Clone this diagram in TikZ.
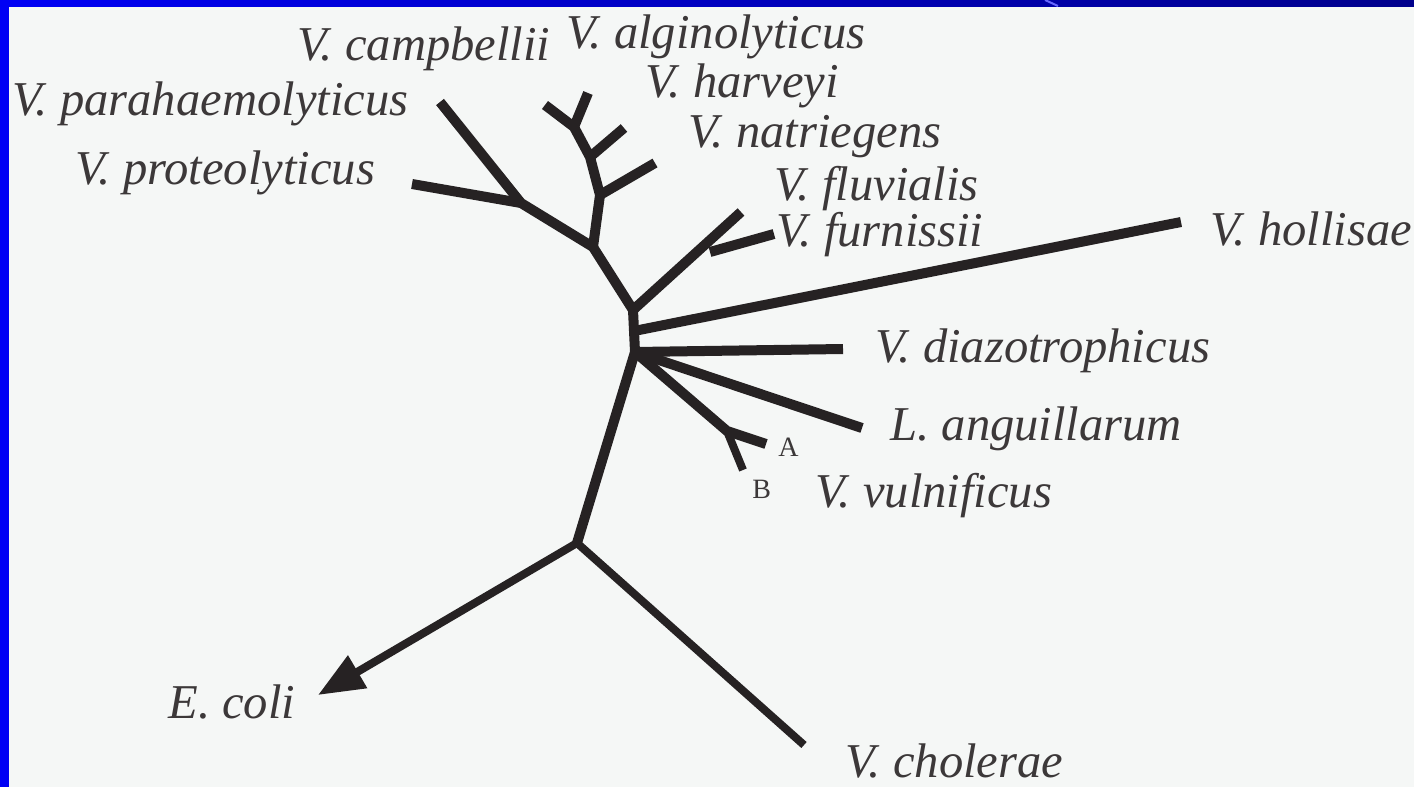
\documentclass[tikz,border=0pt]{standalone}
\usepackage{fontspec}
\setmainfont{Liberation Serif}
\usetikzlibrary{arrows.meta,calc}
\definecolor{bgc}{RGB}{245,247,246}
\definecolor{ink}{RGB}{38,34,35}
\definecolor{barL}{RGB}{0,0,245}
\definecolor{barR}{RGB}{0,0,140}
\begin{document}
\begin{tikzpicture}[x=0.5pt,y=-0.5pt,
  branch/.style={draw=ink,line width=5pt,line cap=butt,line join=round},
  thin/.style={draw=ink,line width=4pt,line cap=butt,line join=round},
  sp/.style={anchor=base west,inner sep=0pt,text=ink!90,font=\itshape\fontsize{24.3}{24.3}\selectfont},
  lett/.style={anchor=base west,inner sep=0pt,text=ink!90,font=\fontsize{14}{14}\selectfont}]
\useasboundingbox (0,0) rectangle (1414,787);
\fill[bgc] (0,0) rectangle (1414,787);
\fill[left color=barL,right color=barR] (0,0) rectangle (1414,6);
\fill[barL] (0,0) rectangle (9,787);
\draw[blue!60!white,line width=1pt] (1045,0) -- (1058,6);
% junctions
\coordinate (J0) at (633,310);
\coordinate (J1) at (635,352);
\coordinate (Jh0) at (634,331);
\coordinate (J2) at (577,543);
\coordinate (Jm) at (593,247);
\coordinate (Jp) at (521,203);
\coordinate (Jn) at (600,195);
\coordinate (Jh) at (590,157);
\coordinate (Jc) at (574,127);
\coordinate (Jf) at (710,252);
\coordinate (Jv) at (727,431);
% tips
\coordinate (tPara) at (440,102);
\coordinate (tProt) at (412,184);
\coordinate (tCamp) at (545,105);
\coordinate (tAlg) at (588,93);
\coordinate (tHarv) at (624,128);
\coordinate (tNat) at (655,163);
\coordinate (tFluv) at (741,212);
\coordinate (tFurn) at (774,234);
\coordinate (tHoll) at (1181,222);
\coordinate (tDiaz) at (843,349);
\coordinate (tAng) at (862,428);
\coordinate (tA) at (766,444);
\coordinate (tB) at (743,470);
\coordinate (tColi) at (318,695);
\coordinate (tChol) at (804,745);
% branches
\draw[branch] (J2) -- (J1) -- (J0) -- (Jm) -- (Jp) -- (tPara);
\draw[branch] (Jp) -- (tProt);
\draw[branch] (Jm) -- (Jn) -- (Jh) -- (Jc) -- (tCamp);
\draw[branch] (Jc) -- (tAlg);
\draw[branch] (Jh) -- (tHarv);
\draw[branch] (Jn) -- (tNat);
\draw[branch] (J0) -- (tFluv);
\draw[branch] (Jf) -- (tFurn);
\draw[branch] (Jh0) -- (tHoll);
\draw[branch] (J1) -- (tDiaz);
\draw[branch] (J1) -- (tAng);
\draw[branch] (J1) -- (Jv) -- (tA);
\draw[thin] (Jv) -- (tB);
\draw[thin,-{Triangle[length=23pt,width=18pt]}] (J2) -- (tColi);
\draw[thin] (J2) -- (tChol);
% labels
\node[sp] (lCamp) at (297,60) {V. campbellii};
\node[sp] (lAlg) at (566,48) {V. alginolyticus};
\node[sp] (lPara) at (12,115) {V. parahaemolyticus};
\node[sp] (lHarv) at (645,97) {V. harveyi};
\node[sp] (lNat) at (688,147) {V. natriegens};
\node[sp] (lProt) at (75,184) {V. proteolyticus};
\node[sp] (lFluv) at (774,200) {V. fluvialis};
\node[sp] (lFurn) at (776,246) {V. furnissii};
\node[sp] (lHoll) at (1210,245) {V. hollisae};
\node[sp] (lDiaz) at (875,362) {V. diazotrophicus};
\node[sp] (lAng) at (890,440) {L. anguillarum};
\node[lett] (lA) at (778,456) {A};
\node[lett] (lB) at (752,498) {B};
\node[sp] (lVul) at (815,507) {V. vulnificus};
\node[sp] (lColi) at (168,718) {E. coli};
\node[sp] (lChol) at (845,777) {V. cholerae};
\end{tikzpicture}
\end{document}
